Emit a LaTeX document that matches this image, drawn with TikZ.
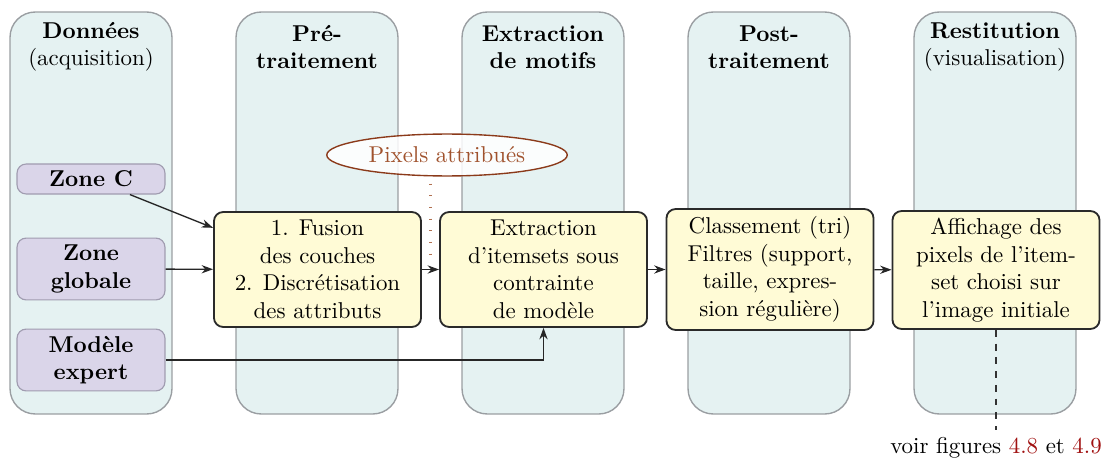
\documentclass[tikz,border=0pt]{standalone}
\usetikzlibrary{arrows.meta,shapes.geometric,calc}
\definecolor{colfill}{HTML}{E5F2F2}
\definecolor{colline}{HTML}{9A9EA2}
\definecolor{pfill}{HTML}{DAD5E9}
\definecolor{pline}{HTML}{A09CB0}
\definecolor{yfill}{HTML}{FFFBD6}
\definecolor{yline}{HTML}{2A2A2A}
\definecolor{brn}{HTML}{8B3A1A}
\definecolor{brntext}{HTML}{A0522D}
\definecolor{dotc}{HTML}{B07050}
\definecolor{refred}{HTML}{A01010}
\tikzset{
  col/.style={draw=colline, fill=colfill, rounded corners=11pt, minimum width=70.7pt, minimum height=175.5pt, line width=0.6pt, inner sep=0pt},
  head/.style={align=center, inner sep=0pt},
  src/.style={draw=pline, fill=pfill, rounded corners=4pt, minimum width=64.6pt, align=center, font=\bfseries, line width=0.5pt, inner sep=1pt},
  proc/.style={draw=yline, fill=yfill, rounded corners=4pt, minimum width=90.4pt, align=center, line width=0.8pt, inner sep=1pt},
  arr/.style={-{Stealth[length=5pt,width=3.6pt]}, line width=0.6pt, draw=black!85},
  pix/.style={ellipse, draw=brn, line width=0.6pt, fill=white, fill opacity=0.85, text opacity=1, text=brntext, minimum width=105pt, minimum height=18.3pt, inner sep=0pt}
}
\begin{document}
\begin{tikzpicture}[x=0.4366pt,y=-0.4366pt]
\useasboundingbox (0,0) rectangle (1103,459);
% columns
\node[col] (c1) at (91,213) {};
\node[col] (c2) at (317,213) {};
\node[col] (c3) at (543,213) {};
\node[col] (c4) at (769,213) {};
\node[col] (c5) at (995,213) {};
% headings
\node[head] (h1) at (91,47) {\textbf{Données}\\(acquisition)};
\node[head] (h2) at (317,47) {\textbf{Pré-}\\\textbf{traitement}};
\node[head] (h3) at (543,47) {\textbf{Extraction}\\\textbf{de motifs}};
\node[head] (h4) at (769,47) {\textbf{Post-}\\\textbf{traitement}};
\node[head] (h5) at (995,47) {\textbf{Restitution}\\(visualisation)};
% sources
\node[src, minimum height=13.1pt] (zc) at (91,179) {Zone C};
\node[src, minimum height=27pt] (zg) at (91,269) {Zone\\globale};
\node[src, minimum height=27pt] (me) at (91,360) {Modèle\\expert};
% process boxes
\node[proc, minimum height=50.2pt] (b1) at (317.5,269.5) {1. Fusion\\des couches\\2. Discrétisation\\des attributs};
\node[proc, minimum height=50.2pt] (b2) at (543.5,269.5) {Extraction\\d'itemsets sous\\contrainte\\de modèle};
\node[proc, minimum height=52.8pt] (b3) at (770,269.5) {Classement (tri)\\Filtres (support,\\taille, expres-\\sion régulière)};
\node[proc, minimum height=51.5pt] (b4) at (996,270) {Affichage des\\pixels de l'item-\\set choisi sur\\l'image initiale};
% ellipse
\node[pix] (px) at (447,155) {Pixels attribués};
% arrows
\draw[arr] (zc) -- (b1);
\draw[arr] (zg) -- (b1);
\draw[arr] (me.east) -| (b2.south);
\draw[arr] (b1) -- (b2);
\draw[arr] (b2) -- (b3);
\draw[arr] (b3) -- (b4);
\coordinate (m) at ($(b1.east)!0.5!(b2.west)$);
\draw[dotc, line width=0.9pt, dash pattern=on 0.5pt off 4.6pt, shorten >=4pt, shorten <=3pt] (m |- px.south) -- (m);
% reference
\node[inner sep=0pt] (voir) at (996,448) {voir figures \textcolor{refred}{4.8} et \textcolor{refred}{4.9}};
\draw[dashed, line width=0.6pt, draw=black!80, shorten >=3pt] (b4.south) -- (voir.north);
\end{tikzpicture}
\end{document}
